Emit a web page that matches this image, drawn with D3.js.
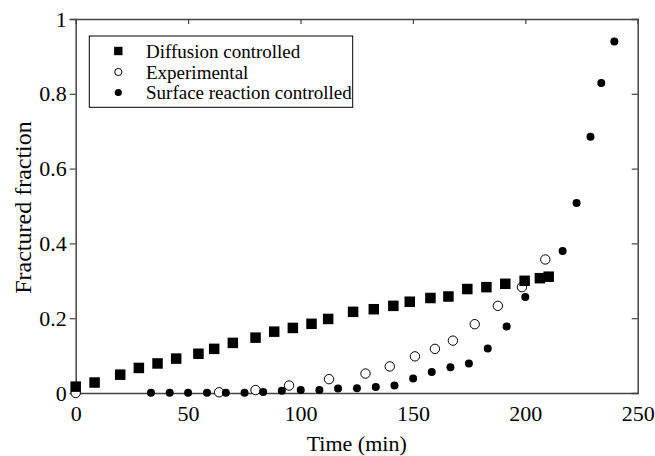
<!DOCTYPE html>
<html>
<head>
<meta charset="utf-8">
<script src="https://cdn.jsdelivr.net/npm/d3@7"></script>
<style>
  body { margin: 0; background: #fff; }
  text { font-family: "Liberation Serif", "Times New Roman", serif; fill: #000; }
</style>
</head>
<body>
<div id="chart"></div>
<script>
const width = 655
const height = 456

// Diffusion controlled (squares)
const diffTime = [0, 8.4, 19.8, 28.1, 36.4, 44.7, 54.6, 61.6, 69.9, 80, 88.3, 96.6, 104.9, 112.3, 123.4,
  132.6, 141.3, 148.6, 157.8, 165.8, 174.2, 182.7, 191.1, 199.7, 206.5, 210.4]
const diffFrac = [0.017, 0.028, 0.049, 0.067, 0.079, 0.092, 0.105, 0.118, 0.134, 0.148, 0.164, 0.174, 0.185, 0.198, 0.217,
  0.224, 0.233, 0.244, 0.254, 0.258, 0.278, 0.283, 0.292, 0.300, 0.307, 0.311]

// Experimental (open circles)
const expTime = [0, 63.8, 80, 94.9, 112.7, 128.9, 139.7, 150.9, 159.8, 167.8, 177.5, 187.8, 198.5, 208.9]
const expFrac = [0, 0.002, 0.008, 0.020, 0.037, 0.052, 0.071, 0.098, 0.118, 0.140, 0.184, 0.233, 0.283, 0.357]

// Surface reaction controlled (filled circles)
const surfTime = [33.5, 41.8, 50, 58.4, 66.8, 75.1, 83.4, 91.7, 100.1, 108.4, 116.7, 125.1, 133.5, 141.8,
  150.1, 158.4, 166.7, 174.9, 183.3, 191.7, 200, 216.6, 222.8, 229, 233.8, 239.6]
const surfFrac = [0.001, 0.001, 0.001, 0.001, 0.001, 0.001, 0.003, 0.006, 0.008, 0.008, 0.012, 0.013, 0.016, 0.020,
  0.039, 0.056, 0.069, 0.079, 0.119, 0.178, 0.257, 0.380, 0.508, 0.685, 0.829, 0.940]

const xTicks = [0, 50, 100, 150, 200, 250]
const yTicks = [0, 0.2, 0.4, 0.6, 0.8, 1]
const yTickLabels = ["0", "0.2", "0.4", "0.6", "0.8", "1"]
const legendLabels = ["Diffusion controlled", "Experimental", "Surface reaction controlled"]

const margin = {top: 19, right: 17.3, bottom: 63, left: 75.7}

let svg = d3.select("#chart")
  .append("svg")
  .attr("width", width)
  .attr("height", height)

let x = d3.scaleLinear().domain([0, 250]).range([margin.left, width - margin.right])
let y = d3.scaleLinear().domain([0, 1]).range([height - margin.bottom, margin.top])

const axisColor = "#444"

// axes: left/bottom outward labels, right/top inward ticks
let axBottom = svg.append("g")
  .attr("transform", `translate(0,${y(0)})`)
  .call(d3.axisBottom(x).tickValues(xTicks).tickSize(0).tickPadding(12))
let axLeft = svg.append("g")
  .attr("transform", `translate(${x(0)},0)`)
  .call(d3.axisLeft(y).tickValues(yTicks).tickSize(6).tickPadding(3)
    .tickFormat((d, i) => yTickLabels[i]))
let axRight = svg.append("g")
  .attr("transform", `translate(${x(250)},0)`)
  .call(d3.axisLeft(y).tickValues(yTicks.slice(1, -1)).tickSize(6).tickFormat(""))
let axTop = svg.append("g")
  .attr("transform", `translate(0,${y(1)})`)
  .call(d3.axisBottom(x).tickValues(xTicks.slice(1, -1)).tickSize(5).tickFormat(""))

for (const g of [axBottom, axLeft, axRight, axTop]) {
  g.attr("font-family", '"Liberation Serif", serif')
  g.select(".domain").attr("stroke", axisColor).attr("stroke-width", 1.5)
  g.selectAll(".tick line").attr("stroke", axisColor).attr("stroke-width", 1.2)
  g.selectAll(".tick text")
    .style("font-family", '"Liberation Serif", serif')
    .style("font-size", "22px")
    .attr("fill", "#000")
}
axBottom.selectAll(".tick text").attr("dy", "0.71em")
axLeft.selectAll(".tick text").attr("dy", "0.32em")

// axis titles
svg.append("text")
  .attr("x", (x(0) + x(250)) / 2)
  .attr("y", 451)
  .attr("text-anchor", "middle")
  .style("font-size", "22px")
  .text("Time (min)")

svg.append("text")
  .attr("transform", `translate(31,207.5) rotate(-90)`)
  .attr("text-anchor", "middle")
  .style("font-size", "24px")
  .text("Fractured fraction")

// data marks
let marks = svg.append("g")

marks.selectAll("circle.exp")
  .data(d3.zip(expTime, expFrac))
  .enter()
  .append("circle")
  .attr("class", "exp")
  .attr("cx", d => x(d[0]))
  .attr("cy", d => y(d[1]))
  .attr("r", 4.7)
  .attr("fill", "#fff")
  .attr("stroke", "#000")
  .attr("stroke-width", 1)

marks.selectAll("circle.surf")
  .data(d3.zip(surfTime, surfFrac))
  .enter()
  .append("circle")
  .attr("class", "surf")
  .attr("cx", d => x(d[0]))
  .attr("cy", d => y(d[1]))
  .attr("r", 4)
  .attr("fill", "#000")

const sq = 10.5
marks.selectAll("rect.diff")
  .data(d3.zip(diffTime, diffFrac))
  .enter()
  .append("rect")
  .attr("class", "diff")
  .attr("x", d => x(d[0]) - sq / 2)
  .attr("y", d => y(d[1]) - sq / 2)
  .attr("width", sq)
  .attr("height", sq)
  .attr("fill", "#000")

// legend
let legend = svg.append("g").attr("id", "legend")
legend.append("rect")
  .attr("x", 89.3)
  .attr("y", 36)
  .attr("width", 263.4)
  .attr("height", 71.3)
  .attr("fill", "#fff")
  .attr("stroke", "#000")
  .attr("stroke-width", 1)

const rowY = [51, 72, 92.5]
legend.append("rect")
  .attr("x", 118.3 - 4.2).attr("y", rowY[0] - 4.2)
  .attr("width", 8.4).attr("height", 8.4)
  .attr("fill", "#000")
legend.append("circle")
  .attr("cx", 118.3).attr("cy", rowY[1]).attr("r", 3.6)
  .attr("fill", "#fff").attr("stroke", "#000").attr("stroke-width", 1)
legend.append("circle")
  .attr("cx", 118.3).attr("cy", rowY[2]).attr("r", 3.6)
  .attr("fill", "#000")

legend.selectAll("text")
  .data(legendLabels)
  .enter()
  .append("text")
  .attr("x", 146)
  .attr("y", (d, i) => rowY[i])
  .attr("dy", "0.35em")
  .style("font-size", "19px")
  .text(d => d)
</script>
</body>
</html>
